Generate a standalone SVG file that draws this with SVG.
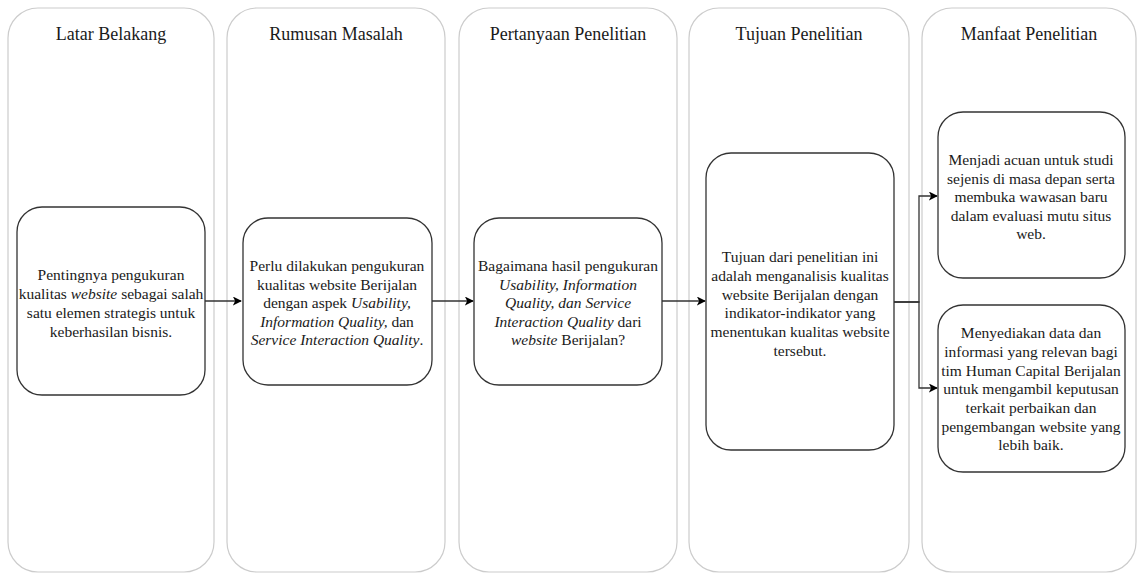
<svg xmlns="http://www.w3.org/2000/svg" width="1139" height="574" viewBox="0 0 1139 574">
<defs>
<marker id="arr" viewBox="0 0 10 10" refX="9" refY="5" markerWidth="9" markerHeight="9" orient="auto" markerUnits="userSpaceOnUse">
<path d="M0,0 L10,5 L0,10 L2.5,5 Z" fill="#000"/>
</marker>
<style>
.lane{fill:#fff;stroke:#cccccc;stroke-width:1.2}
.node{fill:#fff;stroke:#333;stroke-width:1.3}
.title{font-family:"Liberation Serif",serif;font-size:18px;fill:#1a1a1a;text-anchor:middle}
.t{font-family:"Liberation Serif",serif;font-size:15.5px;fill:#1a1a1a;text-anchor:middle}
.i{font-style:italic}
.conn{fill:none;stroke:#333;stroke-width:1.3}
</style>
</defs>
<rect width="1139" height="574" fill="#fff"/>
<g id="lane1"><rect class="lane" x="8" y="8" width="206" height="564" rx="30"/><text class="title" x="111" y="40">Latar Belakang</text></g>
<g id="lane2"><rect class="lane" x="227" y="8" width="218" height="564" rx="30"/><text class="title" x="336" y="40">Rumusan Masalah</text></g>
<g id="lane3"><rect class="lane" x="459" y="8" width="218" height="564" rx="30"/><text class="title" x="568" y="40">Pertanyaan Penelitian</text></g>
<g id="lane4"><rect class="lane" x="689" y="8" width="220" height="564" rx="30"/><text class="title" x="799" y="40">Tujuan Penelitian</text></g>
<g id="lane5"><rect class="lane" x="922" y="8" width="214" height="564" rx="30"/><text class="title" x="1029" y="40">Manfaat Penelitian</text></g>
<g id="connectors">
<path class="conn" d="M205,301 H241" marker-end="url(#arr)"/>
<path class="conn" d="M432,301 H473" marker-end="url(#arr)"/>
<path class="conn" d="M662,301 H705" marker-end="url(#arr)"/>
<path class="conn" d="M894,302 H919 V196 H937" marker-end="url(#arr)"/>
<path class="conn" d="M894,302 H919 V388 H937" marker-end="url(#arr)"/>
</g>
<g id="node1"><rect class="node" x="17" y="207" width="188" height="188" rx="25"/>
<text class="t" x="111"><tspan x="111" y="280">Pentingnya pengukuran</tspan><tspan x="111" y="299">kualitas <tspan class="i">website</tspan> sebagai salah</tspan><tspan x="111" y="318">satu elemen strategis untuk</tspan><tspan x="111" y="337">keberhasilan bisnis.</tspan></text></g>
<g id="node2"><rect class="node" x="243" y="218" width="189" height="167" rx="25"/>
<text class="t" x="337"><tspan x="337" y="271">Perlu dilakukan pengukuran</tspan><tspan x="337" y="289.5">kualitas website Berijalan</tspan><tspan x="337" y="308">dengan aspek <tspan class="i">Usability,</tspan></tspan><tspan x="337" y="326.5"><tspan class="i">Information Quality,</tspan> dan</tspan><tspan x="337" y="345"><tspan class="i">Service Interaction Quality</tspan>.</tspan></text></g>
<g id="node3"><rect class="node" x="474" y="218" width="188" height="167" rx="25"/>
<text class="t" x="568"><tspan x="568" y="271">Bagaimana hasil pengukuran</tspan><tspan x="568" y="289.5" class="i">Usability, Information</tspan><tspan x="568" y="308" class="i">Quality, dan Service</tspan><tspan x="568" y="326.5"><tspan class="i">Interaction Quality</tspan> dari</tspan><tspan x="568" y="345"><tspan class="i">website</tspan> Berijalan?</tspan></text></g>
<g id="node4"><rect class="node" x="706" y="153" width="188" height="297" rx="25"/>
<text class="t" x="800"><tspan x="800" y="262">Tujuan dari penelitian ini</tspan><tspan x="800" y="281">adalah menganalisis kualitas</tspan><tspan x="800" y="299.5">website Berijalan dengan</tspan><tspan x="800" y="318">indikator-indikator yang</tspan><tspan x="800" y="337">menentukan kualitas website</tspan><tspan x="800" y="355.5">tersebut.</tspan></text></g>
<g id="node5a"><rect class="node" x="938" y="112" width="187" height="166" rx="25"/>
<text class="t" x="1031"><tspan x="1031" y="165">Menjadi acuan untuk studi</tspan><tspan x="1031" y="184">sejenis di masa depan serta</tspan><tspan x="1031" y="202">membuka wawasan baru</tspan><tspan x="1031" y="220.5">dalam evaluasi mutu situs</tspan><tspan x="1031" y="239">web.</tspan></text></g>
<g id="node5b"><rect class="node" x="938" y="305" width="187" height="167" rx="25"/>
<text class="t" x="1031"><tspan x="1031" y="338">Menyediakan data dan</tspan><tspan x="1031" y="357">informasi yang relevan bagi</tspan><tspan x="1031" y="375.5">tim Human Capital Berijalan</tspan><tspan x="1031" y="394">untuk mengambil keputusan</tspan><tspan x="1031" y="413">terkait perbaikan dan</tspan><tspan x="1031" y="431.5">pengembangan website yang</tspan><tspan x="1031" y="450">lebih baik.</tspan></text></g>
</svg>
